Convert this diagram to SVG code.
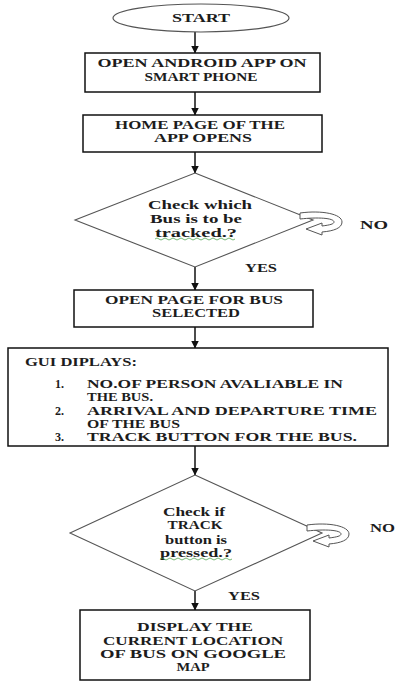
<svg xmlns="http://www.w3.org/2000/svg" width="395" height="682" viewBox="0 0 395 682">
<defs>
<marker id="ah" markerWidth="8" markerHeight="8" refX="7.5" refY="4" orient="auto" markerUnits="userSpaceOnUse">
<path d="M0,0 L8,4 L0,8 Z" fill="#111"/>
</marker>
<path id="loop" d="M0,-9 C22,-12 42,-8 42,0 C42,6 34,9 22,10 L22,13 L6,7 L22,1 L22,4 C30,3 34,2 34,0 C34,-4 18,-5 0,-3 Z"/>
</defs>
<style>
.box{fill:#fff;stroke:#111;stroke-width:1.5}
.dia{fill:#fff;stroke:#555;stroke-width:1.1}
.term{fill:#fff;stroke:#555;stroke-width:1.2}
.lp{fill:#fff;stroke:#555;stroke-width:1}
.t{font-family:"Liberation Serif","Times New Roman",serif;font-weight:bold;font-size:12px;fill:#1c1c1c}
.c{text-anchor:middle}
.con{stroke:#111;stroke-width:1.5;fill:none;marker-end:url(#ah)}
.gl{stroke:#3a9a3a;stroke-width:1;fill:none;opacity:0.7}
</style>
<rect width="395" height="682" fill="#fff"/>
<g id="connectors">
<line class="con" x1="195" y1="32" x2="195" y2="53"/>
<line class="con" x1="195" y1="92" x2="195" y2="115"/>
<line class="con" x1="195" y1="152" x2="195" y2="173"/>
<line class="con" x1="195" y1="267" x2="195" y2="290"/>
<line class="con" x1="195" y1="327" x2="195" y2="348"/>
<line class="con" x1="195" y1="446" x2="195" y2="475"/>
<line class="con" x1="195" y1="591" x2="195" y2="610"/>
</g>
<g id="start">
<ellipse class="term" cx="201" cy="18" rx="88" ry="14"/>
<text class="t c" x="201" y="22" textLength="58" lengthAdjust="spacingAndGlyphs">START</text>
</g>
<g id="open-app">
<rect class="box" x="85" y="53" width="235" height="39"/>
<text class="t c" x="202" y="67" textLength="209" lengthAdjust="spacingAndGlyphs">OPEN ANDROID APP ON</text>
<text class="t c" x="201" y="81" textLength="113" lengthAdjust="spacingAndGlyphs">SMART PHONE</text>
</g>
<g id="home-page">
<rect class="box" x="83" y="115" width="239" height="37"/>
<text class="t c" x="200" y="129" textLength="170" lengthAdjust="spacingAndGlyphs">HOME PAGE OF THE</text>
<text class="t c" x="203" y="142" textLength="98" lengthAdjust="spacingAndGlyphs">APP OPENS</text>
</g>
<g id="check-bus">
<polygon class="dia" points="195,173 313,220 195,267 75,220"/>
<text class="t c" x="200" y="209" textLength="104" lengthAdjust="spacingAndGlyphs">Check which</text>
<text class="t c" x="196" y="223" textLength="92" lengthAdjust="spacingAndGlyphs">Bus is to be</text>
<text class="t c" x="196" y="237" textLength="82" lengthAdjust="spacingAndGlyphs">tracked.?</text>
<path class="gl" d="M155,239 q2,-2 4,0 t4,0 t4,0 t4,0 t4,0 t4,0 t4,0 t4,0 t4,0 t4,0 t4,0 t4,0 t4,0 t4,0 t4,0 t4,0 t4,0 t4,0 t4,0 t4,0"/>
<use href="#loop" class="lp" x="300" y="222"/>
<text class="t" x="360" y="229" textLength="28" lengthAdjust="spacingAndGlyphs">NO</text>
<text class="t" x="245" y="272" textLength="32" lengthAdjust="spacingAndGlyphs">YES</text>
</g>
<g id="open-bus-page">
<rect class="box" x="74" y="290" width="239" height="37"/>
<text class="t c" x="194" y="304" textLength="178" lengthAdjust="spacingAndGlyphs">OPEN PAGE FOR BUS</text>
<text class="t c" x="196" y="317" textLength="88" lengthAdjust="spacingAndGlyphs">SELECTED</text>
</g>
<g id="gui-display">
<rect class="box" x="8" y="348" width="380" height="98"/>
<text class="t" x="25" y="366" textLength="112" lengthAdjust="spacingAndGlyphs">GUI DIPLAYS:</text>
<text class="t" x="55" y="388">1.</text>
<text class="t" x="87" y="388" textLength="256" lengthAdjust="spacingAndGlyphs">NO.OF PERSON AVALIABLE IN</text>
<text class="t" x="87" y="401" textLength="66" lengthAdjust="spacingAndGlyphs">THE BUS.</text>
<text class="t" x="55" y="415">2.</text>
<text class="t" x="87" y="415" textLength="290" lengthAdjust="spacingAndGlyphs">ARRIVAL AND DEPARTURE TIME</text>
<text class="t" x="87" y="428" textLength="93" lengthAdjust="spacingAndGlyphs">OF THE BUS</text>
<text class="t" x="55" y="441">3.</text>
<text class="t" x="87" y="441" textLength="270" lengthAdjust="spacingAndGlyphs">TRACK BUTTON FOR THE BUS.</text>
</g>
<g id="check-track">
<polygon class="dia" points="195,475 322,533 195,591 70,533"/>
<text class="t c" x="194" y="516" textLength="62" lengthAdjust="spacingAndGlyphs">Check if</text>
<text class="t c" x="195" y="529" textLength="55" lengthAdjust="spacingAndGlyphs">TRACK</text>
<text class="t c" x="196" y="544" textLength="62" lengthAdjust="spacingAndGlyphs">button is</text>
<text class="t c" x="196" y="557" textLength="72" lengthAdjust="spacingAndGlyphs">pressed.?</text>
<path class="gl" d="M160,559 q2,-2 4,0 t4,0 t4,0 t4,0 t4,0 t4,0 t4,0 t4,0 t4,0 t4,0 t4,0 t4,0 t4,0 t4,0 t4,0 t4,0 t4,0 t4,0"/>
<use href="#loop" class="lp" x="307" y="534"/>
<text class="t" x="370" y="532" textLength="25" lengthAdjust="spacingAndGlyphs">NO</text>
<text class="t" x="228" y="600" textLength="32" lengthAdjust="spacingAndGlyphs">YES</text>
</g>
<g id="display-location">
<rect class="box" x="80" y="610" width="230" height="70"/>
<text class="t c" x="195" y="631" textLength="116" lengthAdjust="spacingAndGlyphs">DISPLAY THE</text>
<text class="t c" x="193" y="645" textLength="180" lengthAdjust="spacingAndGlyphs">CURRENT LOCATION</text>
<text class="t c" x="193" y="658" textLength="186" lengthAdjust="spacingAndGlyphs">OF BUS ON GOOGLE</text>
<text class="t c" x="193" y="671" textLength="33" lengthAdjust="spacingAndGlyphs">MAP</text>
</g>
</svg>
